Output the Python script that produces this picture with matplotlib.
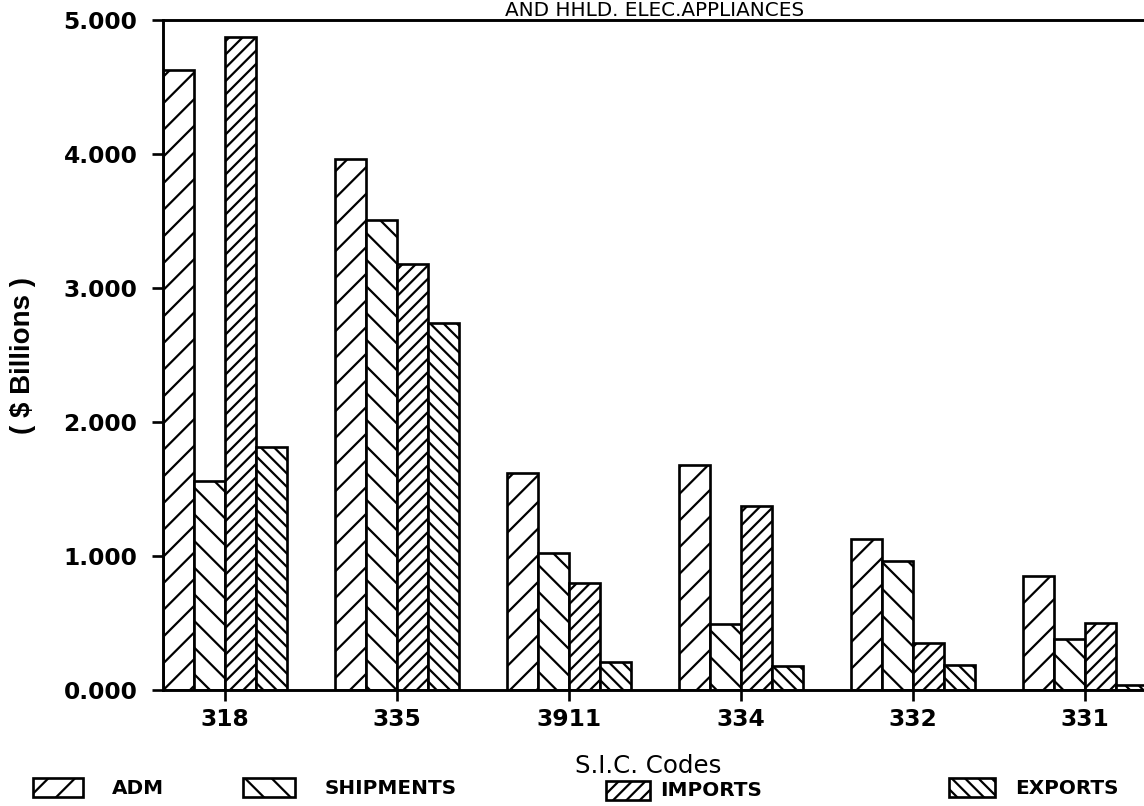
import matplotlib
matplotlib.use("Agg")
import matplotlib.pyplot as plt
from matplotlib.patches import Rectangle
import numpy as np

# ---- data ----
categories = ["318", "335", "3911", "334", "332", "331"]
series_names = ["ADM", "SHIPMENTS", "IMPORTS", "EXPORTS"]
adm = [4.63, 3.96, 1.62, 1.68, 1.13, 0.85]
shipments = [1.56, 3.51, 1.02, 0.49, 0.96, 0.38]
imports = [4.87, 3.18, 0.80, 1.37, 0.35, 0.50]
exports = [1.81, 2.74, 0.21, 0.18, 0.19, 0.04]
y_ticks = [0, 1, 2, 3, 4, 5]
y_tick_labels = ["0.000", "1.000", "2.000", "3.000", "4.000", "5.000"]

title_text = "AND HHLD. ELEC.APPLIANCES"
x_label = "S.I.C. Codes"
y_label = "( $ Billions )"

hatches = ["//", "\\\\", "////", "\\\\\\\\"]

plt.rcParams["hatch.linewidth"] = 1.0
plt.rcParams["hatch.color"] = "black"

W, H = 1144, 806
DPI = 160
fig = plt.figure(figsize=(W / DPI, H / DPI), dpi=DPI)
fig.patch.set_facecolor("white")

ax_left, ax_right_px = 163, 1150
ax_bottom, ax_top = 806 - 690, 806 - 20
ax = fig.add_axes([ax_left / W, ax_bottom / H, (ax_right_px - ax_left) / W, (ax_top - ax_bottom) / H])

x = np.arange(len(categories))
bw = 0.18
all_series = [adm, shipments, imports, exports]
for i, (vals, hat) in enumerate(zip(all_series, hatches)):
    offs = (i - 1.5) * bw
    ax.bar(x + offs, vals, width=bw, facecolor="white", edgecolor="black",
           linewidth=1.2, hatch=hat, zorder=2)

px_per_unit = 172.0
xl = -0.36
ax.set_xlim(xl, xl + (ax_right_px - ax_left) / px_per_unit)
ax.set_ylim(0, 5)

ax.spines["right"].set_visible(False)
for s in ["left", "bottom", "top"]:
    ax.spines[s].set_linewidth(1.3)
    ax.spines[s].set_color("black")

ax.set_yticks(y_ticks)
ax.set_yticklabels(y_tick_labels, fontsize=10.5, fontweight="bold", family="DejaVu Sans")
ax.set_xticks(x)
ax.set_xticklabels(categories, fontsize=10.5, fontweight="bold", family="DejaVu Sans")
ax.tick_params(axis="y", direction="out", length=5, width=1.2, pad=6.5)
ax.tick_params(axis="x", direction="out", length=5, width=1.2, pad=3)

# y label
fig.text(23 / W, 1 - 355 / H, y_label, rotation=90, ha="center", va="center",
         fontsize=12.5, fontweight="bold", family="Liberation Sans")

# x label
fig.text(648 / W, 1 - 766 / H, x_label, ha="center", va="center",
         fontsize=11, family="DejaVu Sans")

# title (at the very top of the page)
fig.text(655 / W, 1 - 16 / H, title_text, ha="center", va="baseline",
         fontsize=9, family="DejaVu Sans")

# legend (manual)
leg = [
    (33, 50, 112, 0),
    (243, 52, 325, 0),
    (606, 44, 660, 3),
    (949, 46, 1015, 0),
]
for (px0, pw, tx, dy), name, hat in zip(leg, series_names, hatches):
    top = 778 + dy
    r = Rectangle((px0 / W, 1 - (top + 19) / H), pw / W, 19 / H, transform=fig.transFigure,
                  facecolor="white", edgecolor="black", linewidth=1.2, hatch=hat)
    fig.add_artist(r)
    fig.text(tx / W, 1 - (top + 10) / H, name, ha="left", va="center",
             fontsize=9, fontweight="bold", family="DejaVu Sans")

fig.savefig("out.png", dpi=DPI, facecolor="white")
